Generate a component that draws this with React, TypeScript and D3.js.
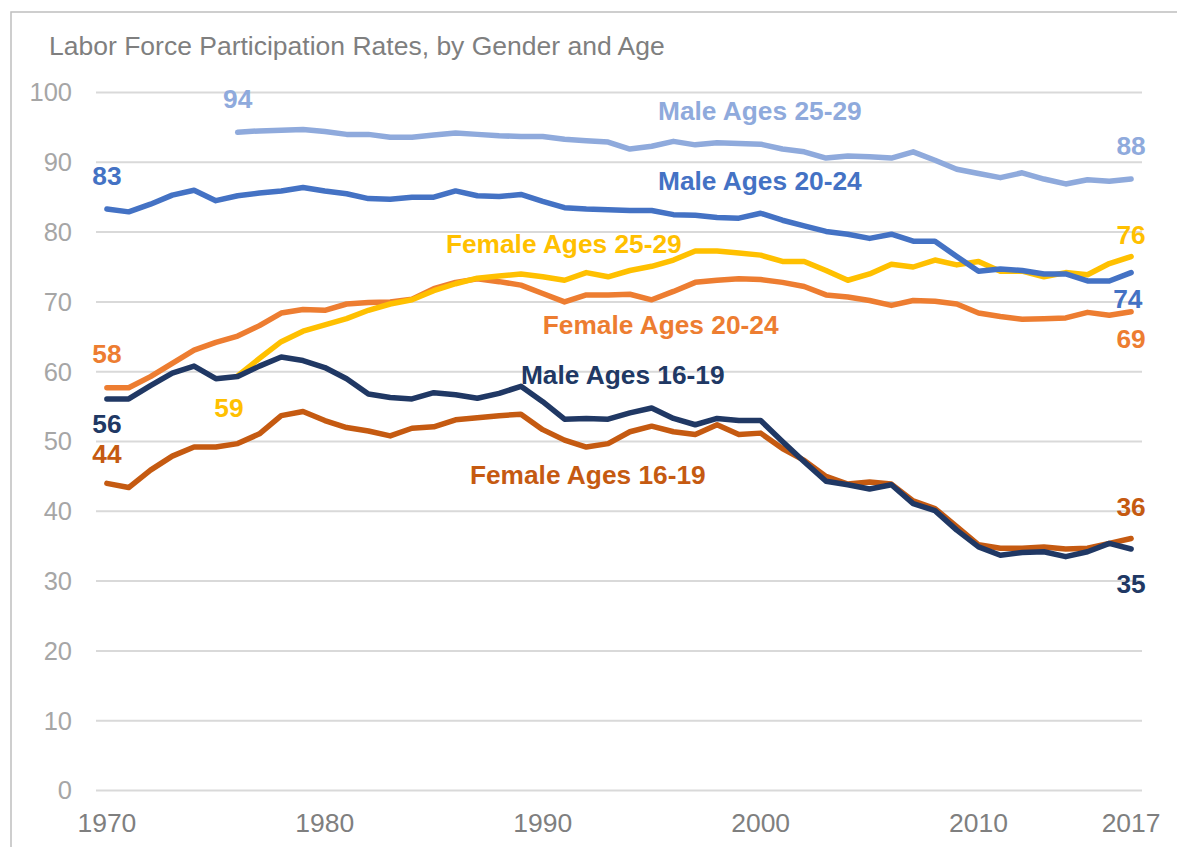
import React, { useLayoutEffect } from "react";
import * as d3 from "d3";

const years: number[] = d3.range(1970, 2018);

const male2024: number[] = [83.3, 82.9, 84.0, 85.3, 86.0, 84.5, 85.2, 85.6, 85.9, 86.4, 85.9, 85.5, 84.8, 84.7, 85.0, 85.0, 85.9, 85.2, 85.1, 85.4, 84.4, 83.5, 83.3, 83.2, 83.1, 83.1, 82.5, 82.4, 82.1, 82.0, 82.7, 81.7, 80.9, 80.1, 79.7, 79.1, 79.7, 78.7, 78.7, 76.5, 74.4, 74.7, 74.5, 74.0, 74.0, 73.0, 73.0, 74.2];

const male2529: (number | null)[] = [null, null, null, null, null, null, 94.3, 94.5, 94.6, 94.7, 94.4, 94.0, 94.0, 93.6, 93.6, 93.9, 94.2, 94.0, 93.8, 93.7, 93.7, 93.3, 93.1, 92.9, 91.9, 92.3, 93.0, 92.5, 92.8, 92.7, 92.6, 91.9, 91.5, 90.6, 90.9, 90.8, 90.6, 91.5, 90.3, 89.0, 88.4, 87.8, 88.5, 87.6, 86.9, 87.5, 87.3, 87.6];

const female2529: (number | null)[] = [null, null, null, null, null, null, 59.4, 61.9, 64.3, 65.8, 66.7, 67.6, 68.8, 69.7, 70.3, 71.6, 72.6, 73.4, 73.7, 74.0, 73.6, 73.1, 74.2, 73.6, 74.5, 75.1, 76.0, 77.3, 77.3, 77.0, 76.7, 75.8, 75.8, 74.5, 73.1, 74.0, 75.4, 75.0, 76.0, 75.3, 75.8, 74.4, 74.4, 73.6, 74.2, 73.9, 75.5, 76.5];

const female2024: number[] = [57.7, 57.7, 59.3, 61.2, 63.1, 64.2, 65.1, 66.6, 68.4, 68.9, 68.8, 69.7, 69.9, 70.0, 70.4, 71.9, 72.8, 73.3, 72.9, 72.4, 71.2, 70.0, 71.0, 71.0, 71.1, 70.3, 71.5, 72.8, 73.1, 73.3, 73.2, 72.8, 72.2, 71.0, 70.7, 70.2, 69.5, 70.2, 70.1, 69.7, 68.4, 67.9, 67.5, 67.6, 67.7, 68.5, 68.1, 68.6];

const male1619: number[] = [56.1, 56.1, 58.0, 59.8, 60.8, 59.0, 59.3, 60.8, 62.1, 61.6, 60.6, 59.0, 56.8, 56.3, 56.1, 57.0, 56.7, 56.2, 56.9, 57.9, 55.7, 53.2, 53.3, 53.2, 54.1, 54.8, 53.3, 52.4, 53.3, 53.0, 53.0, 50.0, 47.1, 44.3, 43.8, 43.2, 43.8, 41.1, 40.1, 37.3, 34.9, 33.7, 34.1, 34.2, 33.5, 34.2, 35.4, 34.6];

const female1619: number[] = [44.0, 43.4, 45.9, 47.9, 49.2, 49.2, 49.7, 51.1, 53.7, 54.3, 53.0, 52.0, 51.5, 50.8, 51.9, 52.1, 53.1, 53.4, 53.7, 53.9, 51.7, 50.2, 49.2, 49.7, 51.4, 52.2, 51.4, 51.0, 52.4, 51.0, 51.2, 49.0, 47.3, 45.0, 43.9, 44.2, 43.9, 41.5, 40.4, 37.8, 35.2, 34.7, 34.7, 34.9, 34.6, 34.7, 35.4, 36.1];

const yTicks: number[] = [0, 10, 20, 30, 40, 50, 60, 70, 80, 90, 100];
const xTickLabels: number[] = [1970, 1980, 1990, 2000, 2010, 2017];

const title = "Labor Force Participation Rates, by Gender and Age";

const COLORS = {
  m2529: "#8faadc",
  m2024: "#4472c4",
  f2529: "#ffc000",
  f2024: "#ed7d31",
  m1619: "#203864",
  f1619: "#c55a11",
};

const series = [
  { key: "f1619", values: female1619 },
  { key: "f2024", values: female2024 },
  { key: "f2529", values: female2529 },
  { key: "m1619", values: male1619 },
  { key: "m2024", values: male2024 },
  { key: "m2529", values: male2529 },
];

// annotations in data space (year, value at text baseline)
const annotations = [
  { text: "94", key: "m2529", year: 1976.0, value: 97.8, anchor: "middle" },
  { text: "83", key: "m2024", year: 1970.0, value: 86.7, anchor: "middle" },
  { text: "58", key: "f2024", year: 1970.0, value: 61.2, anchor: "middle" },
  { text: "56", key: "m1619", year: 1970.0, value: 51.2, anchor: "middle" },
  { text: "44", key: "f1619", year: 1970.0, value: 46.9, anchor: "middle" },
  { text: "59", key: "f2529", year: 1975.6, value: 53.5, anchor: "middle" },
  { text: "88", key: "m2529", year: 2017.0, value: 91.0, anchor: "middle" },
  { text: "76", key: "f2529", year: 2017.0, value: 78.3, anchor: "middle" },
  { text: "74", key: "m2024", year: 2016.85, value: 69.1, anchor: "middle" },
  { text: "69", key: "f2024", year: 2017.0, value: 63.4, anchor: "middle" },
  { text: "36", key: "f1619", year: 2017.0, value: 39.3, anchor: "middle" },
  { text: "35", key: "m1619", year: 2017.0, value: 28.3, anchor: "middle" },
  { text: "Male Ages 25-29", key: "m2529", year: 1995.29, value: 96.0, anchor: "start" },
  { text: "Male Ages 20-24", key: "m2024", year: 1995.29, value: 86.1, anchor: "start" },
  { text: "Female Ages 25-29", key: "f2529", year: 1996.38, value: 77.0, anchor: "end" },
  { text: "Female Ages 20-24", key: "f2024", year: 1990.0, value: 65.4, anchor: "start" },
  { text: "Male Ages 16-19", key: "m1619", year: 1989.0, value: 58.2, anchor: "start" },
  { text: "Female Ages 16-19", key: "f1619", year: 1997.48, value: 43.9, anchor: "end" },
];

const W = 1177;
const H = 847;
const FONT = "'Liberation Sans', Arial, Helvetica, sans-serif";

export default function App() {
  useLayoutEffect(() => {
    document.body.style.margin = "0";
    document.body.style.overflow = "hidden";
  }, []);

  const x = d3.scaleLinear().domain([1969.5, 2017.5]).range([96, 1142]);
  const y = d3.scaleLinear().domain([0, 100]).range([790.5, 92.5]);

  const line = d3
    .line<number | null>()
    .defined((d) => d !== null)
    .x((_, i) => x(years[i]))
    .y((d) => y(d as number))
    .curve(d3.curveLinear);

  return (
    <svg width={W} height={H} style={{ display: "block", fontFamily: FONT }}>
      <rect x={0} y={0} width={W} height={H} fill="#ffffff" />
      <rect x={11} y={12} width={W + 20} height={H + 20} fill="#ffffff" stroke="#bfbfbf" strokeWidth={1.5} />
      <text x={49} y={55} fontSize={26.5} fill="#7f7f7f">
        {title}
      </text>
      {yTicks.map((t) => (
        <g key={t}>
          <line x1={96} x2={1142} y1={y(t)} y2={y(t)} stroke="#d9d9d9" strokeWidth={2} />
          <text x={72} y={y(t)} dy="0.35em" textAnchor="end" fontSize={25.5} fill="#a6a6a6">
            {t}
          </text>
        </g>
      ))}
      {xTickLabels.map((t) => (
        <text key={t} x={x(t)} y={831.5} textAnchor="middle" fontSize={26.5} fill="#7f7f7f">
          {t}
        </text>
      ))}
      {series.map((s) => (
        <path
          key={s.key}
          d={line(s.values as (number | null)[]) || ""}
          fill="none"
          stroke={(COLORS as any)[s.key]}
          strokeWidth={5.5}
          strokeLinejoin="round"
          strokeLinecap="round"
        />
      ))}
      {annotations.map((a, i) => (
        <text
          key={i}
          x={x(a.year)}
          y={y(a.value)}
          textAnchor={a.anchor as any}
          fontSize={26.3}
          fontWeight="bold"
          fill={(COLORS as any)[a.key]}
        >
          {a.text}
        </text>
      ))}
    </svg>
  );
}
